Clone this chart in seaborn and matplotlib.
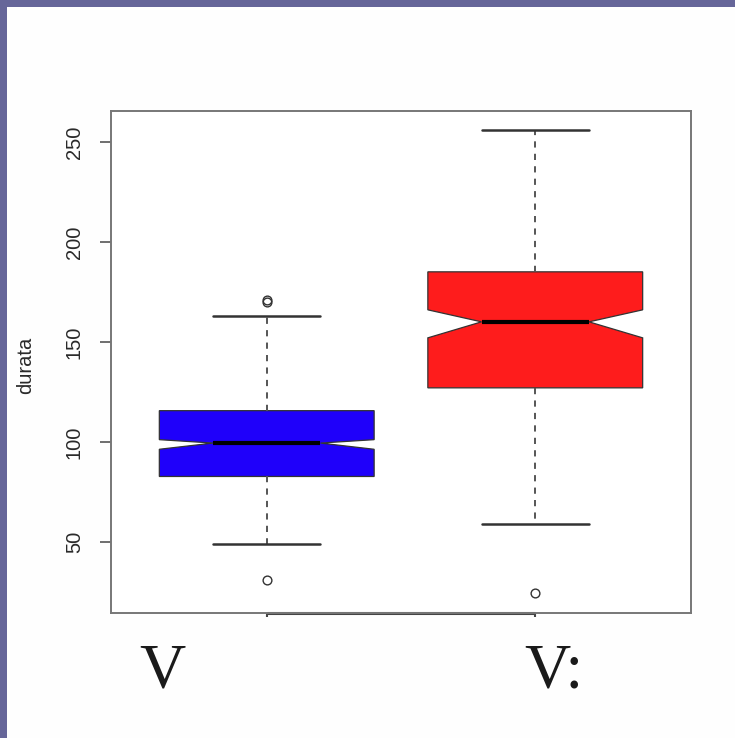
import matplotlib
matplotlib.use("Agg")
import matplotlib.pyplot as plt
from matplotlib.patches import Rectangle
import seaborn as sns

# ---- data ----
groups = ["V", "V:"]
colors = ["#1f00fa", "#fe1c1c"]
q1 = [82.9, 127.2]
med = [99.6, 160.2]
q3 = [115.8, 185.2]
whislo = [49.0, 59.2]
whishi = [163.2, 256.2]
notch_lo = [96.5, 152.2]
notch_hi = [101.3, 166.2]
outliers = [[31.0, 170.2, 171.2], [24.4]]
yticks = [50, 100, 150, 200, 250]
ylabel = "durata"

sns.set_theme(style="white")
plt.rcParams["font.family"] = ["Liberation Sans", "DejaVu Sans"]

fig = plt.figure(figsize=(7.35, 7.38), dpi=100)
fig.patch.set_facecolor("#fefefe")
ax = fig.add_axes([111 / 735, 1 - 613.3 / 738, 580 / 735, 502.3 / 738])
ax.set_facecolor("white")

stats = []
for i in range(len(groups)):
    stats.append(dict(med=med[i], q1=q1[i], q3=q3[i], whislo=whislo[i],
                      whishi=whishi[i], cilo=notch_lo[i], cihi=notch_hi[i],
                      fliers=outliers[i], label=groups[i]))

res = ax.bxp(stats, positions=[1, 2], widths=0.8, capwidths=0.4, shownotches=True,
             patch_artist=True, manage_ticks=False,
             boxprops=dict(edgecolor="#333333", linewidth=0.9),
             whiskerprops=dict(color="#555555", linestyle=(0, (3.2, 3.2)), linewidth=1.4),
             capprops=dict(color="#333333", linewidth=1.8),
             medianprops=dict(color="black", linewidth=3.0),
             flierprops=dict(marker="o", markerfacecolor="none",
                             markeredgecolor="#333333", markersize=6.3,
                             markeredgewidth=1.0, linestyle="none"))
for patch, c in zip(res["boxes"], colors):
    patch.set_facecolor(c)

ax.set_xlim(0.42, 2.58)
ax.set_ylim(14.5, 265.6)
ax.set_yticks(yticks)
ax.set_yticklabels([str(t) for t in yticks], rotation=90, va="center",
                   fontsize=14.5, color="#2a2a2a")
ax.tick_params(axis="y", left=True, length=8, width=1.2, color="#555555", pad=11.5)
ax.set_xticks([1, 2])
ax.set_xticklabels([])
ax.tick_params(axis="x", bottom=True, length=3, width=1.5, color="#444444")
for s in ax.spines.values():
    s.set_visible(True)
    s.set_color("#777777")
    s.set_linewidth(1.4)
# R axis line between first and last tick
ax.plot([1, 2], [0, 0], transform=ax.get_xaxis_transform(), color="#444444",
        linewidth=2.2, clip_on=False, solid_capstyle="butt")

fig.text(26 / 735, 1 - 365 / 738, ylabel, rotation=90, ha="center", va="center",
         fontsize=14.5, color="#2a2a2a")

# group labels under the plot
label_x = [162, 554]
for lx, g in zip(label_x, groups):
    fig.text(lx / 735, 1 - 688 / 738, g, ha="center", va="baseline",
             fontsize=46, family=["Liberation Serif", "DejaVu Serif"], color="#1a1a1a")

# purple slide border (left and top)
fig.patches.append(Rectangle((0, 0), 7 / 735, 1, transform=fig.transFigure,
                             facecolor="#666699", edgecolor="none", zorder=10))
fig.patches.append(Rectangle((0, 1 - 7 / 738), 1, 7 / 738, transform=fig.transFigure,
                             facecolor="#666699", edgecolor="none", zorder=10))

fig.savefig("out.png", dpi=100, facecolor=fig.get_facecolor())
